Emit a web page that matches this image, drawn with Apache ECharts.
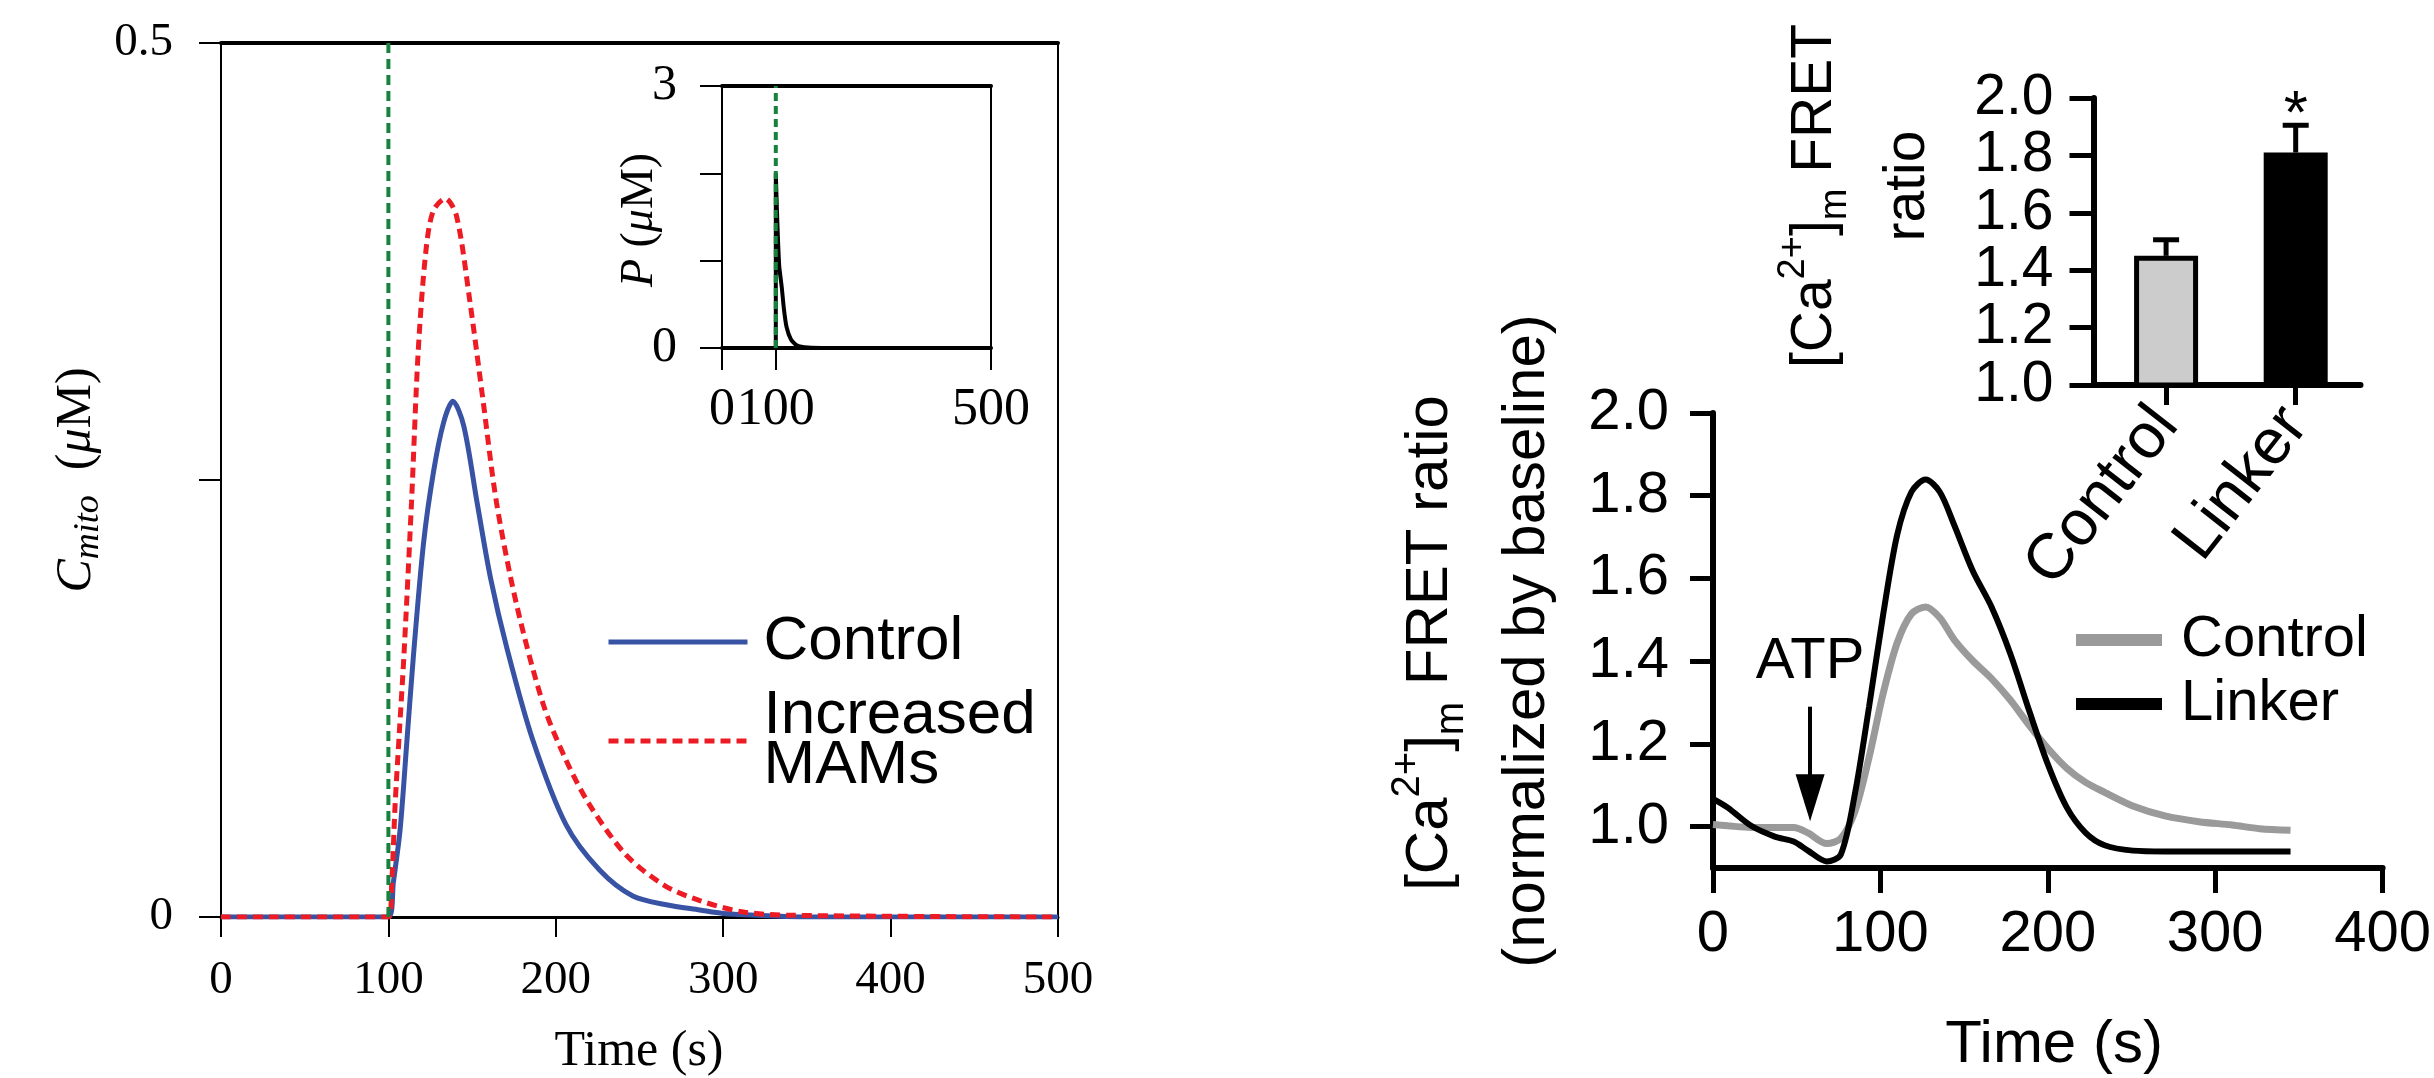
<!DOCTYPE html>
<html>
<head>
<meta charset="utf-8">
<title>Mitochondrial Ca2+ uptake: model and FRET</title>
<script src="https://cdn.jsdelivr.net/npm/echarts@6/dist/echarts.min.js"></script>
<style>
  html, body { margin: 0; padding: 0; background: #fff; }
  #chart { width: 2434px; height: 1078px; }
</style>
</head>
<body>
<div id="chart"></div>
<script>
// ---- model (left panel) ----
var timeControl = [0, 100, 103, 107, 111, 115, 121, 127, 133, 138.5, 145, 153, 161, 171, 186, 206, 226, 246, 266, 286, 300, 320, 350, 500];
var mitoControl = [0, 0, 0.02, 0.05, 0.10, 0.15, 0.214, 0.255, 0.283, 0.295, 0.281, 0.237, 0.194, 0.153, 0.102, 0.053, 0.027, 0.012, 0.007, 0.004, 0.002, 0.001, 0, 0];
var timeMams = [0, 100, 102, 104, 106.5, 109.3, 113.8, 117.8, 122.4, 126.8, 134, 140.7, 148.7, 156.6, 164.6, 176.5, 192.4, 206, 220.3, 242, 265, 286, 311, 340, 500];
var mitoMams = [0, 0, 0.02, 0.064, 0.105, 0.15, 0.237, 0.3235, 0.381, 0.404, 0.411, 0.401, 0.352, 0.295, 0.237, 0.179, 0.122, 0.09, 0.064, 0.0355, 0.018, 0.0094, 0.003, 0.001, 0];
var stimTime = 100;
// inset: IP3 pulse P
var timeP = [0, 100, 100, 102, 104, 106.5, 111, 115, 120, 128, 139, 160, 200, 500];
var pulseP = [0, 0, 2.0, 1.6, 1.25, 0.93, 0.70, 0.45, 0.24, 0.10, 0.03, 0.005, 0, 0];

// ---- experiment (right panel) ----
var fretTime = [0, 8.8, 22.8, 36.9, 48.2, 56.7, 67.9, 76.4, 84.8, 93.2, 101.7, 110, 118.5, 127, 135.5, 143.9, 155.2, 166.4, 177.6, 188.9, 200.1, 211.4, 222.6, 233.9, 250.8, 270, 290.2, 310, 326.6, 345];
var fretLinker = [1.067, 1.046, 1.002, 0.976, 0.964, 0.942, 0.916, 0.933, 1.08, 1.289, 1.514, 1.705, 1.809, 1.839, 1.809, 1.731, 1.618, 1.531, 1.418, 1.28, 1.15, 1.046, 0.985, 0.955, 0.942, 0.94, 0.94, 0.94, 0.94, 0.94];
var fretControl = [1.005, 1.002, 0.998, 0.998, 0.998, 0.985, 0.959, 0.972, 1.037, 1.167, 1.323, 1.444, 1.514, 1.531, 1.505, 1.453, 1.401, 1.358, 1.306, 1.245, 1.189, 1.141, 1.107, 1.083, 1.05, 1.026, 1.012, 1.004, 0.995, 0.991];
var fretTicks = [1.0, 1.2, 1.4, 1.6, 1.8, 2.0];
var atpTime = 58;
var atpFrom = 1.29, atpTo = 1.07;

// peak bar chart
var barGroups = ['Control', 'Linker'];
var barMeans = [1.45, 1.81];
var barErrors = [0.056, 0.095];
var barSig = ['', '*'];
var barTicks = [1.0, 1.2, 1.4, 1.6, 1.8, 2.0];

function pairs(xs, ys) {
  return xs.map(function (x, i) { return [x, ys[i]]; });
}

var serif = 'Liberation Serif';
var sans = 'Liberation Sans';
var black = '#000';

// bar chart tick labels are tightly packed; split them over two label-only axes
// so the library does not drop neighbours as overlapping
function barLabelAxis(values, withLine) {
  return { gridIndex: 3, type: 'value', min: 1.0, max: 2.0, position: 'left', offset: 0,
    axisLine: { show: withLine, lineStyle: { color: black, width: 6 } },
    axisTick: { show: withLine, length: 24, customValues: barTicks, lineStyle: { color: black, width: 5 } },
    axisLabel: { customValues: values, color: black, fontFamily: sans, fontSize: 57, margin: 40,
      showMinLabel: true, showMaxLabel: true,
      formatter: function (v) { return v.toFixed(1); } },
    splitLine: { show: false } };
}

var chart = echarts.init(document.getElementById('chart'));

var option = {
  animation: false,
  backgroundColor: '#fff',
  grid: [
    { left: 221, top: 43, width: 837, height: 874, show: true, borderColor: black, borderWidth: 2 },
    { left: 722, top: 86, width: 269, height: 262, show: true, borderColor: black, borderWidth: 2 },
    { left: 1713, top: 413, width: 683.5, height: 455 },
    { left: 2093.5, top: 98, width: 267, height: 287 }
  ],
  xAxis: [
    { gridIndex: 0, type: 'value', min: 0, max: 500, interval: 100,
      axisLine: { lineStyle: { color: black, width: 3 } },
      axisTick: { length: 20, lineStyle: { color: black, width: 2 } },
      axisLabel: { color: black, fontFamily: serif, fontSize: 47, margin: 40 },
      splitLine: { show: false } },
    { gridIndex: 0, type: 'value', position: 'top', min: 0, max: 500,
      axisLine: { lineStyle: { color: black, width: 4 } },
      axisTick: { show: false }, axisLabel: { show: false }, splitLine: { show: false } },
    { gridIndex: 1, type: 'value', min: 0, max: 500,
      axisLine: { lineStyle: { color: black, width: 4 } },
      axisTick: { length: 22, customValues: [0, 100, 500], lineStyle: { color: black, width: 2 } },
      axisLabel: { customValues: [0, 100, 500], color: black, fontFamily: serif, fontSize: 52, margin: 36,
        hideOverlap: false },
      splitLine: { show: false } },
    { gridIndex: 1, type: 'value', position: 'top', min: 0, max: 500,
      axisLine: { lineStyle: { color: black, width: 4 } },
      axisTick: { show: false }, axisLabel: { show: false }, splitLine: { show: false } },
    { gridIndex: 2, type: 'value', min: 0, max: 400, interval: 100,
      axisLine: { lineStyle: { color: black, width: 6 } },
      axisTick: { length: 25, lineStyle: { color: black, width: 5 } },
      axisLabel: { color: black, fontFamily: sans, fontSize: 58, margin: 38 },
      splitLine: { show: false } },
    { gridIndex: 3, type: 'value', min: 0.44, max: 2.5,
      axisLine: { lineStyle: { color: black, width: 6 } },
      axisTick: { length: 20, customValues: [1, 2], lineStyle: { color: black, width: 5 } },
      axisLabel: { customValues: [1, 2], rotate: 52, margin: 30, color: black, fontFamily: sans, fontSize: 64,
        formatter: function (v) { return barGroups[Math.round(v) - 1] || ''; } },
      splitLine: { show: false } }
  ],
  yAxis: [
    { gridIndex: 0, type: 'value', min: 0, max: 0.5, interval: 0.25,
      axisLine: { show: true, lineStyle: { color: black, width: 2 } },
      axisTick: { show: true, length: 22, lineStyle: { color: black, width: 2 } },
      axisLabel: { color: black, fontFamily: serif, fontSize: 47, margin: 48,
        formatter: function (v) { return v === 0.25 ? '' : String(v); } },
      splitLine: { show: false } },
    { gridIndex: 1, type: 'value', min: 0, max: 3, interval: 1,
      axisLine: { show: true, lineStyle: { color: black, width: 2 } },
      axisTick: { show: true, length: 22, lineStyle: { color: black, width: 2 } },
      axisLabel: { color: black, fontFamily: serif, fontSize: 50, margin: 45,
        formatter: function (v) { return (v === 0 || v === 3) ? String(v) : ''; } },
      splitLine: { show: false } },
    { gridIndex: 2, type: 'value', min: 0.9, max: 2.0,
      axisLine: { show: true, lineStyle: { color: black, width: 6 } },
      axisTick: { show: true, length: 23, customValues: fretTicks, lineStyle: { color: black, width: 5 } },
      axisLabel: { customValues: fretTicks, color: black, fontFamily: sans, fontSize: 58, margin: 44,
        formatter: function (v) { return v.toFixed(1); } },
      splitLine: { show: false } },
    barLabelAxis(barTicks.filter(function (v, i) { return i % 2 === 0; }), true),
    barLabelAxis(barTicks.filter(function (v, i) { return i % 2 === 1; }), false)
  ],
  legend: [
    { data: ['Control', 'Increased MAMs'], orient: 'vertical', left: 606, top: 611, padding: 0,
      itemWidth: 139, itemHeight: 51, itemGap: 12, selectedMode: false,
      itemStyle: { opacity: 0 }, lineStyle: { width: 5 },
      formatter: function (n) { return n === 'Increased MAMs' ? 'Increased\nMAMs' : n; },
      textStyle: { color: black, fontFamily: sans, fontSize: 62, lineHeight: 50, padding: [0, 0, 0, 11] } },
    { data: ['Control (FRET)', 'Linker'], orient: 'vertical', left: 2070, top: 611, padding: 0,
      itemWidth: 86, itemHeight: 58, itemGap: 6, selectedMode: false,
      itemStyle: { opacity: 0 }, lineStyle: { width: 12 },
      formatter: function (n) { return n === 'Control (FRET)' ? 'Control' : n; },
      textStyle: { color: black, fontFamily: sans, fontSize: 58, lineHeight: 58, padding: [0, 0, 0, 14] } }
  ],
  series: [
    { name: 'Control', type: 'line', xAxisIndex: 0, yAxisIndex: 0, data: pairs(timeControl, mitoControl),
      showSymbol: false, symbol: 'none', smooth: 0.3,
      lineStyle: { color: '#3953a4', width: 5 }, itemStyle: { color: '#3953a4' } },
    { name: 'Increased MAMs', type: 'line', xAxisIndex: 0, yAxisIndex: 0, data: pairs(timeMams, mitoMams),
      showSymbol: false, symbol: 'none', smooth: 0.3,
      lineStyle: { color: '#ed1c24', width: 5, type: [10, 6] }, itemStyle: { color: '#ed1c24' } },
    { name: 'stimulus', type: 'line', xAxisIndex: 0, yAxisIndex: 0, data: [[stimTime, 0], [stimTime, 0.5]],
      showSymbol: false, symbol: 'none', z: 3,
      lineStyle: { color: '#17823e', width: 4, type: [10, 6] } },
    { name: 'P', type: 'line', xAxisIndex: 2, yAxisIndex: 1, data: pairs(timeP, pulseP),
      showSymbol: false, symbol: 'none', smooth: 0.2,
      lineStyle: { color: black, width: 4 } },
    { name: 'stimulus inset', type: 'line', xAxisIndex: 2, yAxisIndex: 1, data: [[stimTime, 0], [stimTime, 3]],
      showSymbol: false, symbol: 'none', z: 3,
      lineStyle: { color: '#17823e', width: 4, type: [8, 5] } },
    { name: 'Control (FRET)', type: 'line', xAxisIndex: 4, yAxisIndex: 2, data: pairs(fretTime, fretControl),
      showSymbol: false, symbol: 'none', smooth: 0.3,
      lineStyle: { color: '#9a9a9a', width: 7 }, itemStyle: { color: '#9a9a9a' },
      markLine: {
        silent: true, animation: false,
        lineStyle: { color: black, width: 4, type: 'solid' },
        label: { show: true, position: 'start', formatter: 'ATP', color: black, fontFamily: sans, fontSize: 58, distance: 16 },
        data: [[
          { coord: [atpTime, atpFrom], symbol: 'none' },
          { coord: [atpTime, atpTo], symbol: 'triangle', symbolSize: [29, 47] }
        ]]
      } },
    { name: 'Linker', type: 'line', xAxisIndex: 4, yAxisIndex: 2, data: pairs(fretTime, fretLinker),
      showSymbol: false, symbol: 'none', smooth: 0.3,
      lineStyle: { color: black, width: 6 }, itemStyle: { color: black } },
    { name: 'peak', type: 'bar', xAxisIndex: 5, yAxisIndex: 3, barWidth: 64,
      data: barMeans.map(function (m, i) {
        return { value: [i + 1, m],
          itemStyle: { color: i === 0 ? '#cccccc' : black, borderColor: black, borderWidth: 5 } };
      }) },
    { name: 'error', type: 'custom', xAxisIndex: 5, yAxisIndex: 3,
      data: barMeans.map(function (m, i) { return [i + 1, m, barErrors[i], i]; }),
      renderItem: function (params, api) {
        var x = api.value(0), m = api.value(1), e = api.value(2), idx = api.value(3);
        var p0 = api.coord([x, m]);
        var p1 = api.coord([x, m + e]);
        var st = { stroke: black, lineWidth: 5 };
        var children = [
          { type: 'line', shape: { x1: p0[0], y1: p0[1], x2: p1[0], y2: p1[1] }, style: st },
          { type: 'line', shape: { x1: p1[0] - 13, y1: p1[1], x2: p1[0] + 13, y2: p1[1] }, style: st }
        ];
        if (barSig[idx]) {
          children.push({ type: 'text', x: p1[0], y: p1[1] + 22,
            style: { text: barSig[idx], fill: black, font: '62px ' + sans, align: 'center', verticalAlign: 'bottom' } });
        }
        return { type: 'group', children: children };
      } }
  ],
  graphic: [
    { type: 'text', x: 77, y: 480, rotation: Math.PI / 2,
      style: { text: '{i|C}{s|mito}{n|  (}{i|\u03bc}{n|M)}', align: 'center', verticalAlign: 'middle',
        rich: {
          i: { fontFamily: serif, fontStyle: 'italic', fontSize: 50, fill: black },
          s: { fontFamily: serif, fontStyle: 'italic', fontSize: 36, fill: black, verticalAlign: 'bottom', lineHeight: 60 },
          n: { fontFamily: serif, fontSize: 50, fill: black }
        } } },
    { type: 'text', x: 639, y: 1052,
      style: { text: 'Time (s)', font: '50px ' + serif, fill: black, align: 'center', verticalAlign: 'middle' } },
    { type: 'text', x: 640, y: 220, rotation: Math.PI / 2,
      style: { text: '{i|P}{n| (}{i|\u03bc}{n|M)}', align: 'center', verticalAlign: 'middle',
        rich: {
          i: { fontFamily: serif, fontStyle: 'italic', fontSize: 46, fill: black },
          n: { fontFamily: serif, fontSize: 46, fill: black }
        } } },
    { type: 'text', x: 1430, y: 643, rotation: Math.PI / 2,
      style: { text: '{n|[Ca}{sup|2+}{n|]}{sub|m}{n| FRET ratio}', align: 'center', verticalAlign: 'middle',
        rich: {
          n: { fontFamily: sans, fontSize: 60, fill: black, lineHeight: 84 },
          sup: { fontFamily: sans, fontSize: 40, fill: black, verticalAlign: 'top', lineHeight: 84 },
          sub: { fontFamily: sans, fontSize: 40, fill: black, verticalAlign: 'bottom', lineHeight: 84 }
        } } },
    { type: 'text', x: 1527, y: 641, rotation: Math.PI / 2,
      style: { text: '(normalized by baseline)', font: '60px ' + sans, fill: black, align: 'center', verticalAlign: 'middle' } },
    { type: 'text', x: 2054, y: 1045,
      style: { text: 'Time (s)', font: '60px ' + sans, fill: black, align: 'center', verticalAlign: 'middle' } },
    { type: 'text', x: 1815, y: 196, rotation: Math.PI / 2,
      style: { text: '{n|[Ca}{sup|2+}{n|]}{sub|m}{n| FRET}', align: 'center', verticalAlign: 'middle',
        rich: {
          n: { fontFamily: sans, fontSize: 57, fill: black, lineHeight: 80 },
          sup: { fontFamily: sans, fontSize: 38, fill: black, verticalAlign: 'top', lineHeight: 80 },
          sub: { fontFamily: sans, fontSize: 38, fill: black, verticalAlign: 'bottom', lineHeight: 80 }
        } } },
    { type: 'text', x: 1908, y: 186, rotation: Math.PI / 2,
      style: { text: 'ratio', font: '57px ' + sans, fill: black, align: 'center', verticalAlign: 'middle' } }
  ]
};

chart.setOption(option);
</script>
</body>
</html>
